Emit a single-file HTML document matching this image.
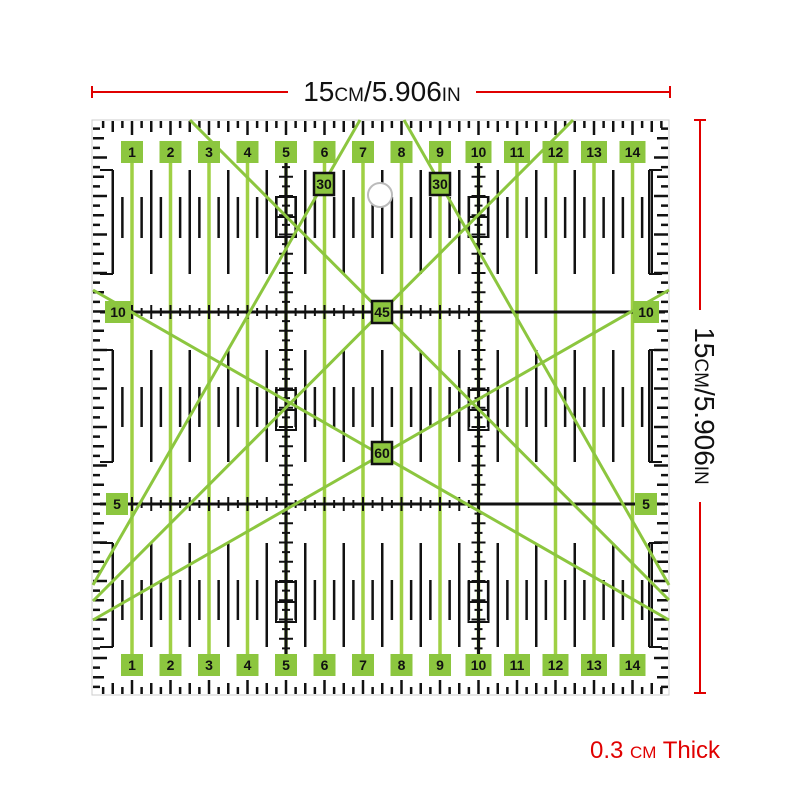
<!DOCTYPE html>
<html><head><meta charset="utf-8"><style>
html,body{margin:0;padding:0;background:#fff;width:800px;height:800px;overflow:hidden}
svg{display:block}
text{font-family:"Liberation Sans",sans-serif}
</style></head><body>
<svg id="s" width="800" height="800" xmlns="http://www.w3.org/2000/svg">
<rect x="0" y="0" width="800" height="800" fill="#fff"/>
<g stroke="#e00000" stroke-width="2">
<line x1="92" y1="92" x2="288" y2="92"/><line x1="476" y1="92" x2="670" y2="92"/>
<line x1="92" y1="86" x2="92" y2="98"/><line x1="670" y1="86" x2="670" y2="98"/>
<line x1="700" y1="120" x2="700" y2="310"/><line x1="700" y1="502" x2="700" y2="693"/>
<line x1="694" y1="120" x2="706" y2="120"/><line x1="694" y1="693" x2="706" y2="693"/>
</g>
<text x="382" y="101" text-anchor="middle" font-size="28" fill="#111">15<tspan font-size="19">CM</tspan>/5.906<tspan font-size="19">IN</tspan></text>
<text transform="translate(695,406) rotate(90)" text-anchor="middle" font-size="28" fill="#111">15<tspan font-size="19">CM</tspan>/5.906<tspan font-size="19">IN</tspan></text>
<text x="590" y="758" font-size="24" fill="#e00000">0.3 <tspan font-size="17">CM</tspan> Thick</text>
<rect x="92" y="120" width="577" height="575" fill="#fff" stroke="#ccc" stroke-width="1"/>
<g id="g"></g>
</svg>
<script>
var g=document.getElementById('g'),h='';
function L(x1,y1,x2,y2,c,w){h+='<line x1="'+x1+'" y1="'+y1+'" x2="'+x2+'" y2="'+y2+'" stroke="'+c+'" stroke-width="'+w+'"/>';}
var X0=93.5,S=38.5,GC='#9fd044';
function cx(i){return X0+i*S;}
for(var k=1;k<80;k++){var x=X0+k*S/4; if(x>667)break;
 var len=(k%4==0)?14:(k%2==0)?11:7;
 L(x,121,x,121+len,'#111',2.5);L(x,694,x,694-len,'#111',2.5);}
for(var k=1;k<80;k++){var y=119+k*S/4; if(y>692)break;
 var len=(k%4==0)?14:(k%2==0)?11:7;
 L(93,y,93+len,y,'#111',2.5);L(668,y,668-len,y,'#111',2.5);}
var bands=[[170,274,197,238],[350,462,387,427],[543,647,580,620]];
bands.forEach(function(b){
 for(var i=0;i<15;i++){var c=cx(i);
  var hx=c+S/2; if(hx<660 && hx>110) L(hx,b[0],hx,b[1],'#111',2.5);
  [c-S/4,c+S/4].forEach(function(q){ if(q>105&&q<660) L(q,b[2],q,b[3],'#111',2.5);});
 }
 L(113,b[0],113,b[1],'#111',2);L(649,b[0],649,b[1],'#111',2);
 L(100,b[0],113,b[0],'#111',2);L(100,b[1],113,b[1],'#111',2);
 L(649,b[0],662,b[0],'#111',2);L(649,b[1],662,b[1],'#111',2);
});
for(var i=1;i<=14;i++){L(cx(i),150,cx(i),665,GC,3.5);}
[312,504].forEach(function(y){L(100,y,665,y,'#111',3);
 for(var k=-20;k<40;k++){var x=cx(0)+k*S/4; if(x<108||x>660)continue; var l=(k%2==0)?7:4; L(x,y-l,x,y+l,'#111',2);} });
[cx(5),cx(10)].forEach(function(x){L(x,160,x,660,'#111',3);
 for(var k=0;k<80;k++){var y=119+k*S/4; if(y<160||y>660)continue; var l=(k%2==0)?7:4; L(x-l,y,x+l,y,'#111',2);}
 [[197,237],[390,430],[582,622]].forEach(function(r){h+='<rect x="'+(x-10)+'" y="'+r[0]+'" width="20" height="'+(r[1]-r[0])+'" fill="none" stroke="#111" stroke-width="2"/>';L(x-10,(r[0]+r[1])/2,x+10,(r[0]+r[1])/2,'#111',2);});
});
var D=[[190,120,669,600],[573,120,93,601],[360,120,93,585],[404,120,669,585],[93,290,669,620],[93,620,669,290]];
D.forEach(function(d){L(d[0],d[1],d[2],d[3],'#8cc63f',3);});
function lab(x,y,t,w,box){h+='<rect x="'+(x-w/2)+'" y="'+(y-11)+'" width="'+w+'" height="22" fill="#8cc63f"'+(box?' stroke="#111" stroke-width="2.5"':'')+'/>';
 h+='<text x="'+x+'" y="'+(y+5)+'" text-anchor="middle" font-size="14" font-weight="bold" fill="#111">'+t+'</text>';}
for(var i=1;i<=14;i++){var w=i>9?26:22;lab(cx(i),152,i,w);lab(cx(i),665,i,w);}
lab(118,312,'10',26);lab(646,312,'10',26);lab(117,504,'5',22);lab(646,504,'5',22);
lab(324,184,'30',20,1);lab(440,184,'30',20,1);lab(382,312,'45',20,1);lab(382,453,'60',20,1);
h+='<circle cx="380" cy="195" r="12" fill="#fff" stroke="#bbb" stroke-width="2"/>';
g.innerHTML=h;
</script>
</body></html>
